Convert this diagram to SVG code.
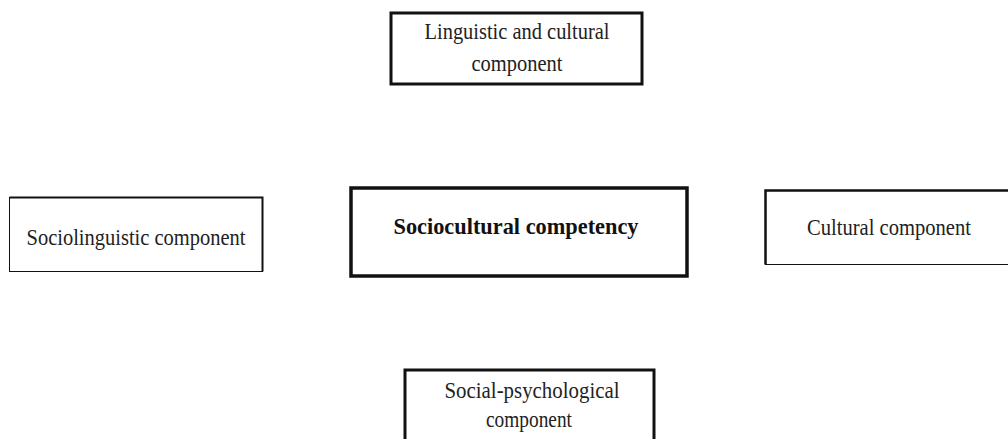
<svg xmlns="http://www.w3.org/2000/svg" width="1008" height="439" viewBox="0 0 1008 439">
<style>
.box{fill:#fff;stroke:#111;}
.t{font-family:"Liberation Serif","Times New Roman",serif;font-size:24px;fill:#222;text-anchor:middle;}
.b{font-weight:bold;font-size:23.5px;fill:#111;}
.edge{fill:none;stroke:#111;}
</style>
<rect width="1008" height="439" fill="#fff"/>
<g id="connectors"></g>
<g id="node-top">
<rect class="box" x="391" y="13" width="251" height="71" stroke-width="3"/>
<text class="t" x="517" y="39" textLength="185" lengthAdjust="spacingAndGlyphs">Linguistic and cultural</text>
<text class="t" x="517" y="71" textLength="91" lengthAdjust="spacingAndGlyphs">component</text>
</g>
<g id="node-left">
<rect class="box" x="9.5" y="197.5" width="253" height="74" stroke-width="1" stroke="#555"/>
<path class="edge" d="M9.5 197.5 H262.5 V271.5" stroke-width="2"/>
<text class="t" x="136" y="245" textLength="219" lengthAdjust="spacingAndGlyphs">Sociolinguistic component</text>
</g>
<g id="node-center">
<rect class="box" x="351" y="188" width="336" height="88" stroke-width="3.5"/>
<text class="t b" x="516" y="234" textLength="245" lengthAdjust="spacingAndGlyphs">Sociocultural competency</text>
</g>
<g id="node-right">
<rect class="box" x="765.5" y="190.5" width="250" height="74" stroke-width="1" stroke="#777"/>
<path class="edge" d="M765.5 264.5 V190.5 H1010" stroke-width="2.5"/>
<text class="t" x="889" y="235" textLength="164" lengthAdjust="spacingAndGlyphs">Cultural component</text>
</g>
<g id="node-bottom">
<rect class="box" x="405" y="370" width="249" height="80" stroke-width="3"/>
<text class="t" x="532" y="398" textLength="175" lengthAdjust="spacingAndGlyphs">Social-psychological</text>
<text class="t" x="529" y="427" textLength="86" lengthAdjust="spacingAndGlyphs">component</text>
</g>
</svg>
